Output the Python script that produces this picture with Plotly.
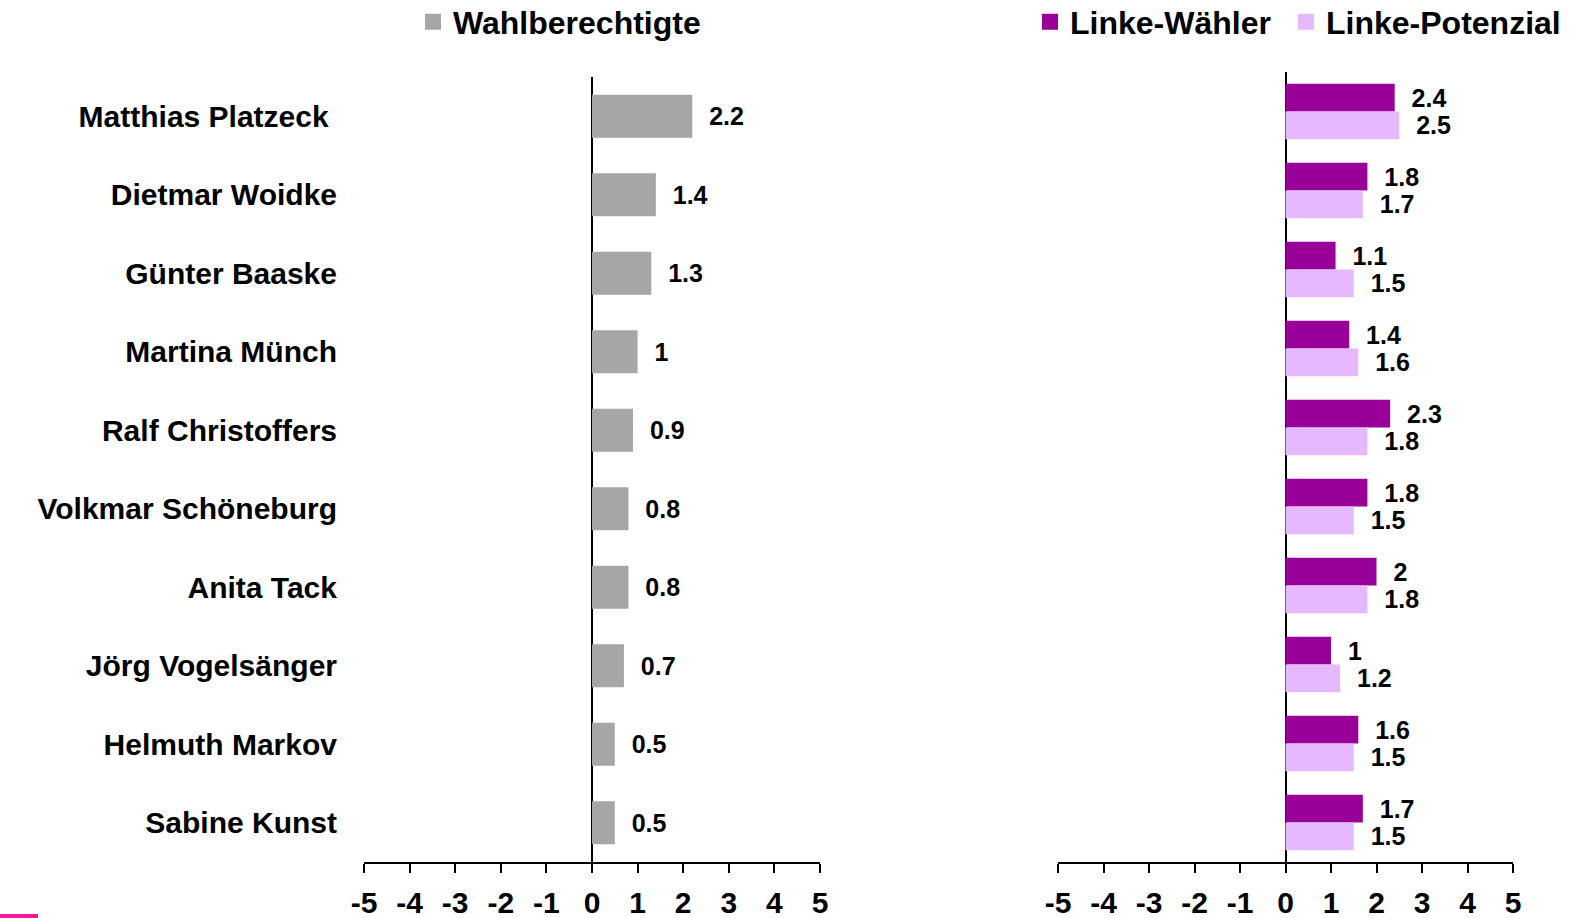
import plotly.graph_objects as go

names = ["Matthias Platzeck ", "Dietmar Woidke", "Günter Baaske", "Martina Münch",
         "Ralf Christoffers", "Volkmar Schöneburg", "Anita Tack", "Jörg Vogelsänger",
         "Helmuth Markov", "Sabine Kunst"]
wahlberechtigte = [2.2, 1.4, 1.3, 1, 0.9, 0.8, 0.8, 0.7, 0.5, 0.5]
linke_waehler = [2.4, 1.8, 1.1, 1.4, 2.3, 1.8, 2, 1, 1.6, 1.7]
linke_potenzial = [2.5, 1.7, 1.5, 1.6, 1.8, 1.5, 1.8, 1.2, 1.5, 1.5]
x_ticks = [-5, -4, -3, -2, -1, 0, 1, 2, 3, 4, 5]

W, H = 1573, 918
FONT = "Liberation Sans, Arial, sans-serif"
GREY = "#A6A6A6"
DARK = "#990099"
LIGHT = "#E6B9FF"

def lbl(vals):
    return ["\u00a0\u00a0" + f"{v:g}" for v in vals]

fig = go.Figure()

fig.add_trace(go.Bar(
    y=names, x=wahlberechtigte, orientation="h", name="Wahlberechtigte",
    marker=dict(color=GREY, line=dict(width=0)), width=0.55,
    text=lbl(wahlberechtigte), textposition="outside", constraintext="none",
    cliponaxis=False, textfont=dict(family=FONT, size=25, color="black", weight="bold"),
    xaxis="x", yaxis="y", showlegend=False, hoverinfo="x+y"))

fig.add_trace(go.Bar(
    y=names, x=linke_waehler, orientation="h", name="Linke-Wähler",
    marker=dict(color=DARK, line=dict(width=0)),
    text=lbl(linke_waehler), textposition="outside", constraintext="none",
    cliponaxis=False, textfont=dict(family=FONT, size=25, color="black", weight="bold"),
    xaxis="x2", yaxis="y2", showlegend=False))

fig.add_trace(go.Bar(
    y=names, x=linke_potenzial, orientation="h", name="Linke-Potenzial",
    marker=dict(color=LIGHT, line=dict(width=0)),
    text=lbl(linke_potenzial), textposition="outside", constraintext="none",
    cliponaxis=False, textfont=dict(family=FONT, size=25, color="black", weight="bold"),
    xaxis="x2", yaxis="y2", showlegend=False))

# legend proxies
fig.add_trace(go.Scatter(x=[None], y=[None], mode="markers", name="Wahlberechtigte",
                         marker=dict(symbol="square", size=16, color=GREY),
                         legend="legend", xaxis="x", yaxis="y"))
fig.add_trace(go.Scatter(x=[None], y=[None], mode="markers", name="Linke-Wähler",
                         marker=dict(symbol="square", size=16, color=DARK),
                         legend="legend2", xaxis="x2", yaxis="y2"))
fig.add_trace(go.Scatter(x=[None], y=[None], mode="markers", name="Linke-Potenzial",
                         marker=dict(symbol="square", size=16, color=LIGHT),
                         legend="legend3", xaxis="x2", yaxis="y2"))

xcommon = dict(
    range=[-5, 5], tickvals=x_ticks, ticktext=[str(t) for t in x_ticks],
    showline=True, linecolor="black", linewidth=2,
    ticks="outside", ticklen=9, tickwidth=2, tickcolor="black",
    tickfont=dict(family=FONT, size=30, color="black", weight="bold"),
    ticklabelstandoff=4,
    showgrid=False, zeroline=True, zerolinecolor="black", zerolinewidth=2,
    fixedrange=True,
)
ycommon = dict(
    type="category", categoryorder="array", categoryarray=names,
    autorange=False, range=[9.5, -0.5],
    showline=False, showgrid=False, zeroline=False, ticks="",
    fixedrange=True,
)
legfont = dict(family=FONT, size=32, color="black", weight="bold")
legcommon = dict(orientation="h", xanchor="left", y=1 - 22 / H, yanchor="middle",
                 font=legfont, bgcolor="rgba(0,0,0,0)",
                 itemclick=False, itemdoubleclick=False)

fig.update_layout(
    width=W, height=H,
    margin=dict(l=0, r=0, t=0, b=0, autoexpand=False),
    paper_bgcolor="white", plot_bgcolor="white",
    barmode="group", bargap=0.3, bargroupgap=0,
    xaxis=dict(domain=[364 / W, 820 / W], anchor="y", **xcommon),
    xaxis2=dict(domain=[1058 / W, 1513 / W], anchor="y2", **xcommon),
    yaxis=dict(anchor="x", showticklabels=True, ticklabelstandoff=26,
               domain=[(H - 862) / H, (H - 77) / H],
               tickfont=dict(family=FONT, size=30, color="black", weight="bold"),
               **ycommon),
    yaxis2=dict(anchor="x2", showticklabels=False,
                domain=[(H - 862) / H, (H - 72) / H], **ycommon),
    legend=dict(x=413 / W, **legcommon),
    legend2=dict(x=1030 / W, **legcommon),
    legend3=dict(x=1286 / W, **legcommon),
    shapes=[dict(type="rect", xref="paper", yref="paper", x0=0, x1=38 / W,
                 y0=0, y1=4 / H, fillcolor="#FF1493", line=dict(width=0))],
    font=dict(family=FONT, color="black"),
)

fig.write_html("out.html", config={"displayModeBar": False},
               post_script="document.body.style.margin='0';document.body.style.overflow='hidden';")
